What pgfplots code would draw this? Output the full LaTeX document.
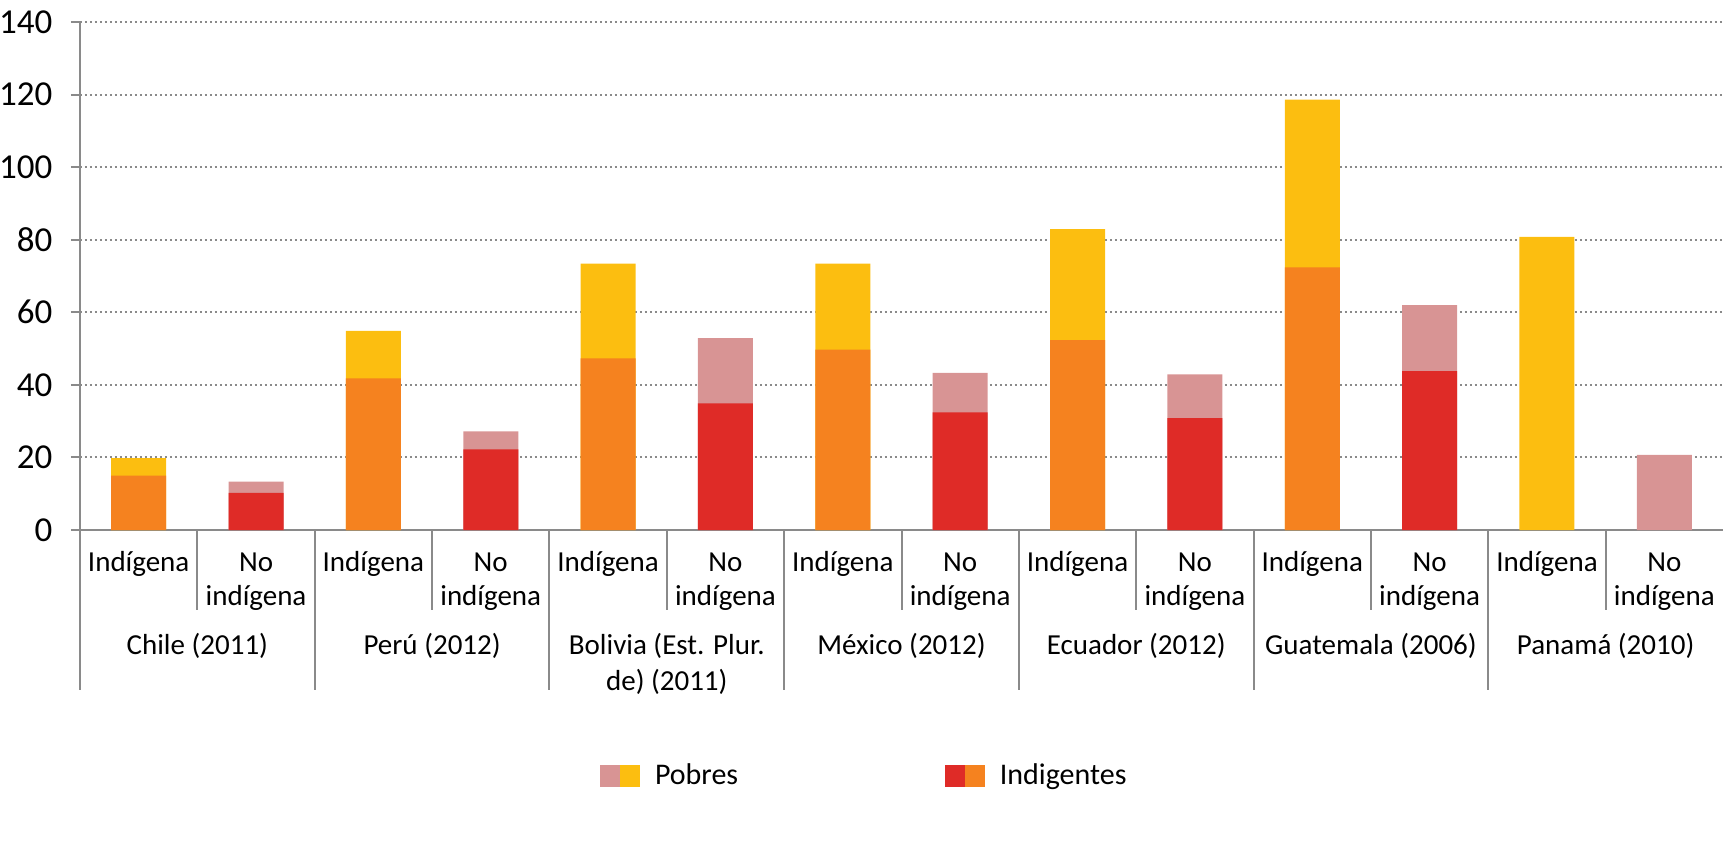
\documentclass[border=0pt]{standalone}
\usepackage{pgfplots}
\pgfplotsset{compat=1.18}
\usepackage{fontspec}
\setmainfont{Carlito}

\definecolor{corange}{HTML}{F5821F}
\definecolor{cyellow}{HTML}{FCBE10}
\definecolor{cred}{HTML}{DF2B27}
\definecolor{cpink}{HTML}{D89494}
\definecolor{cgray}{HTML}{8A8A8A}

\begin{document}
\fontsize{8.7}{10.2}\selectfont
\begin{tikzpicture}
\path[use as bounding box] (-24pt,-93pt) rectangle (492.9pt,159pt);
\begin{axis}[
    at={(0,0)}, anchor=south west,
    scale only axis,
    width=492.9pt, height=152.4pt,
    xmin=-0.5, xmax=13.5,
    ymin=0, ymax=140,
    ytick={0,20,...,140},
    xtick=\empty,
    axis x line*=bottom,
    axis y line*=left,
    axis line style={cgray, line width=0.6pt, -},
    tick align=outside,
    major tick length=2.7pt,
    ytick style={cgray, line width=0.6pt},
    ymajorgrids,
    grid style={cgray, line width=0.6pt, dash pattern=on 0.6pt off 0.9pt},
    /pgf/number format/assume math mode=true,
    yticklabel style={font=\fontsize{10.5}{12}\selectfont, xshift=-2.5pt},
    ybar, bar width=16.5pt, bar shift=0pt,
    every axis plot/.append style={draw=none},
    clip=false,
    legend columns=2,
    legend style={at={(axis description cs:0.3165,-0.4843)}, anchor=west,
      draw=none, inner sep=0pt, outer sep=0pt,
      nodes={inner xsep=0pt, inner ysep=1pt},
      font=\fontsize{9}{10.5}\selectfont,
      /tikz/every odd column/.append style={column sep=4.5pt},
      /tikz/every even column/.append style={column sep=62pt}},
]
% pobres (total), indigena
\addplot[fill=cyellow, forget plot] coordinates {
  (0,19.8) (2,54.9) (4,73.4) (6,73.4) (8,82.9) (10,118.6) (12,80.8)};
% indigentes, indigena
\addplot[fill=corange, forget plot] coordinates {
  (0,15.0) (2,41.8) (4,47.3) (6,49.7) (8,52.3) (10,72.4)};
% pobres (total), no indigena
\addplot[fill=cpink, forget plot] coordinates {
  (1,13.3) (3,27.2) (5,52.9) (7,43.3) (9,42.9) (11,62.0) (13,20.7)};
% indigentes, no indigena
\addplot[fill=cred, forget plot] coordinates {
  (1,10.2) (3,22.2) (5,34.9) (7,32.4) (9,30.8) (11,43.8)};

\addlegendimage{legend image code/.code={
  \fill[cpink] (0pt,-3.3pt) rectangle (6pt,3.3pt);
  \fill[cyellow] (6pt,-3.3pt) rectangle (12pt,3.3pt);}}
\addlegendentry{Pobres}
\addlegendimage{legend image code/.code={
  \fill[cred] (0pt,-3.3pt) rectangle (6pt,3.3pt);
  \fill[corange] (6pt,-3.3pt) rectangle (12pt,3.3pt);}}
\addlegendentry{Indigentes}

% separators below the x axis
\pgfplotsinvokeforeach{0.5,2.5,4.5,6.5,8.5,10.5,12.5}{
  \draw[cgray, line width=0.6pt] (axis cs:#1,0) -- ([yshift=-24pt]axis cs:#1,0);}
\pgfplotsinvokeforeach{-0.5,1.5,3.5,5.5,7.5,9.5,11.5}{
  \draw[cgray, line width=0.6pt] (axis cs:#1,0) -- ([yshift=-48pt]axis cs:#1,0);}

% category labels
\pgfplotsinvokeforeach{0,2,4,6,8,10,12}{
  \node[anchor=mid] at ([yshift=-10.4pt]axis cs:#1,0) {Indígena};}
\pgfplotsinvokeforeach{1,3,5,7,9,11,13}{
  \node[anchor=mid] at ([yshift=-10.4pt]axis cs:#1,0) {No};
  \node[anchor=mid] at ([yshift=-20.6pt]axis cs:#1,0) {indígena};}
\node[anchor=mid] at ([yshift=-35.4pt]axis cs:0.5,0) {Chile (2011)};
\node[anchor=mid] at ([yshift=-35.4pt]axis cs:2.5,0) {Perú (2012)};
\node[anchor=mid] at ([yshift=-35.4pt]axis cs:4.5,0) {Bolivia (Est. Plur.};
\node[anchor=mid] at ([yshift=-46.2pt]axis cs:4.5,0) {de) (2011)};
\node[anchor=mid] at ([yshift=-35.4pt]axis cs:6.5,0) {México (2012)};
\node[anchor=mid] at ([yshift=-35.4pt]axis cs:8.5,0) {Ecuador (2012)};
\node[anchor=mid] at ([yshift=-35.4pt]axis cs:10.5,0) {Guatemala (2006)};
\node[anchor=mid] at ([yshift=-35.4pt]axis cs:12.5,0) {Panamá (2010)};
\end{axis}
\end{tikzpicture}
\end{document}
